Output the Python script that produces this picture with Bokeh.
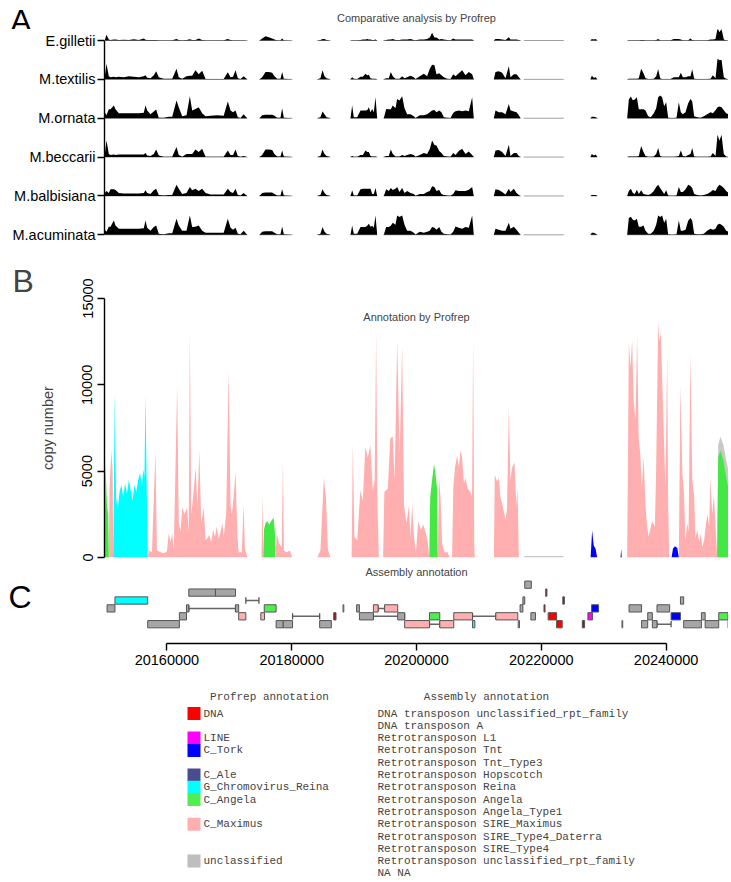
import numpy as np
from bokeh.plotting import figure
from bokeh.models import Range1d, FixedTicker, Label, LinearAxis, BasicTickFormatter
from bokeh.layouts import column
from bokeh.embed import file_html
from bokeh.resources import INLINE
from bokeh.core.properties import value

START = 20150000
END = 20250000
SANS = "Liberation Sans"
MONO = "Liberation Mono"

# ---------------- Panel A : comparative analysis (relative signal) -------------
species = ["E.gilletii", "M.textilis", "M.ornata", "M.beccarii", "M.balbisiana", "M.acuminata"]

# positions in kb from START
a_kb = [
    0.05, 0.32, 0.69, 0.96, 1.5, 1.76, 2.3, 3.1, 3.9, 4.7, 5.5, 6.3, 6.57, 6.84, 7.37, 7.9, 8.28, 8.7, 9.5, 10.3,
    10.85, 11.54, 11.9, 12.45, 13.14, 13.68, 14.05, 14.58, 15.1, 15.65, 16.2, 17.0, 18.06, 19.1, 19.76, 20.2,
    20.6, 21.0, 21.37, 21.8, 22.3, 22.86,
    24.84, 25.27, 25.8, 26.33, 26.87, 27.24, 27.67, 28.2, 28.47, 28.74, 30.08,
    34.08, 34.6, 34.94, 35.26, 35.58, 36.2,
    39.42, 39.69, 39.95, 40.5, 41.03, 41.4, 41.83, 42.1, 42.36, 42.63, 42.9, 43.16, 43.43, 43.7,
    44.76, 45.14, 45.56, 45.88, 46.2, 46.63, 46.9, 47.27, 47.7, 48.08, 48.5, 49.04, 49.57,
    49.84, 50.53, 51.17, 51.7, 52.13, 52.5, 52.88, 53.2, 53.64, 54.0, 54.38, 54.92, 55.45, 55.88, 56.25, 56.78,
    57.32, 57.85, 58.38, 58.92, 59.18,
    62.39, 62.66, 63.19, 63.73, 64.26, 64.8, 65.06, 65.6, 66.03, 66.4, 66.67,
    67.2, 73.6,
    77.88, 78.1, 78.42, 78.74, 78.96,
    83.76, 84.03, 84.35, 84.67, 84.99, 85.31, 85.63, 86.0, 86.38, 86.7, 87.13, 87.55, 88.03, 88.41, 88.73, 89.05,
    89.37, 89.69, 90.01, 90.33, 90.71, 91.24, 91.67, 92.04, 92.36, 92.68, 93.11, 93.54, 93.91, 94.18, 94.5,
    94.98, 95.51, 96.05, 96.58, 97.12, 97.49, 97.92, 98.24, 98.56, 98.88, 99.25, 99.63, 100.0,
]

e_gilletii = [
    0.5, 5.7, 1, 0.5, 1, 1, 0.5, 0.7, 0.5, 1.3, 0.5, 2, 0.7, 0.5, 0.5, 0.5, 0.5, 0.3, 0.3, 0.3, 0.3, 1.5, 0.5,
    0.3, 0.5, 1.3, 0.5, 0.5, 2, 0.5, 0.3, 0.3, 0.3, 0.3, 1.5, 0.5, 0.3, 0.3, 0.3, 0.3, 0.3, 0,
    0, 2, 4.3, 3.3, 2, 1, 0.3, 0.3, 2, 0.3, 0,
    0, 0.5, 1.5, 1.5, 0.5, 0,
    0, 0.3, 0.3, 0.3, 0.5, 1, 1, 1.5, 1, 1, 0.5, 0.5, 1, 0,
    0, 0.5, 1, 1, 1.5, 0.5, 0.5, 0.5, 1, 1, 1, 1.5, 0.5,
    0.3, 1, 1, 1.5, 3, 7.7, 3, 3, 1, 1.5, 1, 0.5, 0.3, 2, 1, 1, 1, 1, 1, 1, 0,
    0, 1.5, 1.5, 1, 0.5, 3.3, 1, 1, 1, 0.5, 0,
    0, 0,
    0, 1.5, 1, 1.5, 0,
    0, 0.3, 0.3, 0.3, 0.3, 0.3, 0.3, 0.5, 0.5, 0.3, 0.3, 0.3, 0.3, 0.5, 1.5, 0.3, 0.3, 0.3, 0.3, 0.3, 0.3,
    1.5, 1.5, 1.5, 1, 0.3, 0.3, 0.3, 2, 0.5, 0.3, 0.3, 0.3, 0.3, 0.3, 1, 1, 1.5, 12.3, 8.3, 11.7, 1, 0.3, 0,
]
m_textilis = [
    3, 15.7, 3, 2, 2.5, 2, 2.5, 2, 3, 2.5, 2, 3, 4, 1.5, 1, 4, 8, 2, 0.5, 0.5, 0.5, 10.7, 2, 0.5, 3, 3.5, 3.5,
    9, 5, 8.5, 0.3, 0.3, 0.3, 0.3, 7, 2, 2.5, 9, 1, 0.3, 3, 0,
    0, 2, 7.3, 7.3, 6.5, 3, 0.5, 0.5, 7.3, 0.5, 0,
    0, 1, 9, 3, 1, 0,
    0, 2, 0.5, 0.3, 2.5, 2.5, 5.7, 4, 4.7, 1, 0.5, 0.5, 0.5, 0,
    0, 1, 1, 7.3, 3, 0.5, 0.5, 0.5, 3, 1, 2, 3.5, 2,
    0.3, 3, 5.7, 3, 10.7, 14.7, 14, 5, 6, 4, 2, 0.5, 0.3, 5, 3, 6, 9, 4, 7.3, 5, 0,
    0, 7.3, 8, 6.7, 1, 13.3, 2, 5, 5, 2, 0,
    0, 0,
    0, 3.5, 1.5, 2, 0,
    0, 0.5, 0.5, 0.5, 0.5, 0.5, 1, 10.7, 6, 1, 0.3, 0.3, 0.5, 3, 10, 1, 0.3, 0.3, 0.3, 0.3, 0.3, 2, 2, 2,
    6.7, 2, 2, 3, 3, 10, 0.5, 0.3, 0.3, 0.3, 0.3, 0.5, 4, 1, 20.7, 19, 19.7, 2, 0.5, 0,
]
m_ornata = [
    6, 3, 9, 9, 12.7, 9, 5, 5, 5, 5, 5, 5.5, 13, 7.7, 4, 6.7, 8.7, 0.5, 0.5, 1.5, 1.5, 17.7, 11, 2, 3, 22, 7.7,
    9.3, 11, 5, 2, 2.5, 3, 2.5, 16.7, 7.7, 6, 7.7, 1, 0.3, 4, 0,
    0, 3, 3.5, 3.5, 3.5, 2.5, 0.5, 0.5, 10, 0.5, 0,
    0, 1, 6.7, 4, 1, 0,
    0, 12.7, 1, 1, 7.7, 7.7, 7.7, 8, 11, 6, 9.3, 6, 21, 0,
    0, 9.3, 9, 9, 12.7, 10, 19.3, 17.7, 22, 10, 4, 4, 2,
    0.3, 3, 3, 4, 6, 7.7, 8.3, 6, 7.7, 6, 1, 0.5, 0.3, 5.3, 7, 7.7, 7, 7.7, 7, 21, 0,
    0, 7.7, 6, 6, 4, 14.3, 8, 6.7, 6, 3, 0,
    0, 0,
    0, 1.5, 1.5, 1, 0,
    0, 18.7, 21.7, 18, 18.7, 21, 9, 9, 9, 7.7, 2, 1, 5, 10, 21, 22.7, 21, 12, 16, 0.5, 0.3, 0.3, 0.5, 16,
    6, 4, 6, 15, 19.3, 17, 2, 1, 0.5, 2, 4, 6, 5, 8, 11, 11.7, 11, 8, 5, 4,
]
m_beccarii = [
    3, 16.7, 3, 2, 2.5, 2, 2.5, 2.5, 2.5, 2.5, 2.5, 2.5, 4, 1.5, 1, 3, 7.7, 1.5, 0.3, 0.3, 0.3, 10, 2, 0.3, 3,
    3, 3, 7.7, 5, 8.3, 0.3, 0.3, 0.3, 0.3, 6.7, 2, 2, 7.7, 1, 0.3, 1, 0,
    0, 2, 7.7, 7.7, 7, 3, 0.5, 0.5, 6.7, 0.5, 0,
    0, 1, 7.7, 3, 1, 0,
    0, 1, 0.3, 0.3, 2, 2, 6.7, 5, 5, 1, 0.5, 0.5, 0.5, 0,
    0, 1, 1, 7.7, 3, 0.5, 0.5, 0.5, 2, 1, 2, 3, 2,
    0.3, 2, 4, 3, 8, 16.7, 12, 11.7, 6, 4, 1, 0.5, 0.3, 4, 2, 6, 8.3, 3, 5.7, 2, 0,
    0, 6.7, 7, 5, 1, 12.3, 1, 4, 4, 1, 0,
    0, 0,
    0, 3, 1.5, 2.5, 0,
    0, 0.5, 0.5, 0.5, 0.5, 0.5, 1, 11, 5, 1, 0.3, 0.3, 0.5, 3, 9, 1, 0.3, 0.3, 0.3, 0.3, 0.3, 0.3, 0.5, 1,
    6.7, 1, 0.5, 2, 3, 9, 0.5, 0.3, 0.3, 0.3, 0.3, 0.5, 4, 1, 22.3, 16.7, 22.3, 3, 0.5, 0,
]
m_balbisiana = [
    3, 5, 3, 6.7, 6.7, 6, 3, 2.5, 2.5, 2.5, 2.5, 3, 5.7, 3, 2, 5.7, 7.3, 1, 0.5, 1, 1, 11.3, 7.3, 2, 3, 9, 5.7,
    7.3, 5, 7.3, 3, 1.5, 1.5, 1.5, 7.3, 4, 3, 7.3, 1, 0.5, 3, 0,
    0, 3, 3.5, 3.5, 3.5, 2, 0.5, 0.5, 6.7, 0.5, 0,
    0, 1, 6.7, 3, 1, 0,
    0, 5.7, 0.5, 0.5, 6.7, 7.3, 7.3, 7.3, 7.3, 7.3, 2, 2, 8, 0,
    0, 6.7, 5, 8, 6, 7.3, 9, 4, 8, 3, 5, 3, 2,
    0.3, 2, 2, 4, 5, 9.7, 9, 5, 6, 2, 1, 0.5, 0.3, 2, 5.7, 5, 5, 5, 6.3, 9, 0,
    0, 6.7, 6, 4, 1.5, 7.3, 4, 7.3, 3, 1, 0,
    0, 0,
    0, 1, 1, 1, 0,
    0, 5, 7.3, 3, 2, 6.3, 2, 5.7, 2, 1.5, 1, 2, 5, 9, 11.3, 8, 5, 2, 5.7, 0.5, 0.3, 0.3, 0.5, 9, 4, 4, 6.7,
    11.3, 10, 8, 2, 1, 0.5, 1, 2, 4, 6, 5, 9, 11.3, 10, 8, 5, 3,
]
m_acuminata = [
    5, 3, 8, 8, 14.3, 9.3, 6, 6, 6, 6, 6, 6.5, 14.3, 7, 4, 7.7, 9.3, 1, 0.5, 1.5, 1.5, 16, 9.3, 4, 4, 19.3,
    7.7, 8, 9.3, 4, 2, 2, 2, 2, 16, 7, 5, 7, 1, 0.5, 4, 0,
    0, 3, 3.5, 3.5, 3.5, 2, 0.5, 0.5, 8.3, 0.5, 0,
    0, 1, 7.7, 3, 1, 0,
    0, 9.3, 1, 1, 7.7, 7.7, 7.7, 9, 11, 8, 9, 7, 19.3, 0,
    0, 7.7, 7.7, 9, 12, 10, 19.3, 17.7, 19.3, 10, 4, 4, 2,
    0.3, 3, 2, 3, 4, 7.7, 7, 5, 7.7, 3, 1, 0.5, 0.3, 3, 8.3, 7, 6, 7.7, 7, 19.3, 0,
    0, 6, 5, 4, 4, 12, 6, 8, 5, 2, 0,
    0, 0,
    0, 2, 2, 1, 0,
    0, 16.7, 18, 15, 14.3, 16, 8, 8, 9.3, 4, 1, 1, 4, 10, 19.3, 17.7, 19.3, 12, 16, 0.5, 0.3, 0.3, 0.5, 14.3,
    4, 4, 5, 14, 16.7, 14, 1, 0.5, 0.5, 1, 4, 6, 5, 6, 10, 11, 10, 8, 4, 3,
]
a_tracks = [e_gilletii, m_textilis, m_ornata, m_beccarii, m_balbisiana, m_acuminata]
# sequenced (covered) regions, kb
a_cover_start = [0.0, 24.8, 34.1, 39.4, 44.7, 62.4, 67.2, 77.9, 83.8]
a_cover_end = [22.9, 30.1, 36.2, 43.7, 59.2, 66.7, 73.6, 79.0, 100.0]

# ---------------- Panel B : annotation by Profrep (copy number) ----------------
pink_kb = [0.7, 0.8, 1.1, 1.3, 1.39,
           6.94, 7.1, 7.6, 8.17, 8.4, 9.0, 9.5, 10.0, 10.3, 10.6, 10.85, 11.1, 11.65, 11.9, 12.2, 12.45, 12.8,
           13.25, 13.5, 13.68, 13.9, 14.2, 14.6, 14.9, 15.2, 15.5, 15.9, 16.2, 16.45, 16.8, 17.1, 17.4, 17.7,
           18.0, 18.3, 18.6, 18.9, 19.1, 19.5, 19.9, 20.2, 20.4, 20.7, 21.0, 21.3, 21.5, 22.0, 22.3, 22.5, 22.9,
           25.16, 25.3, 25.45, 25.5, 27.4, 27.6, 28.0, 28.4, 28.6, 28.75, 29.2, 29.7, 30.1,
           34.1, 34.6, 35.15, 35.5, 35.8, 36.2,
           39.6, 39.8, 40.05, 40.5, 41.0, 41.4, 41.8, 42.2, 42.6, 43.0, 43.3, 43.53, 43.75, 43.97,
           44.65, 44.85, 45.4, 45.8, 46.2, 46.5, 46.9, 47.3, 47.7, 48.0, 48.4, 48.8, 49.04, 49.3, 49.6, 49.9,
           50.3, 50.7, 51.1, 51.5, 51.8, 52.05,
           53.4, 53.6, 53.85, 54.1, 54.5, 55.0, 55.3,
           55.7, 55.9, 56.15, 56.5, 56.8, 57.05, 57.3, 57.6, 57.85, 58.2, 58.65, 58.9, 59.08, 59.25, 59.35,
           62.4, 62.55, 62.9, 63.2, 63.45, 63.8, 64.26, 64.5, 64.8, 65.05, 65.3, 65.7, 66.0, 66.2, 66.4,
           83.76, 84.03, 84.3, 84.56, 84.8, 85.1, 85.36, 85.6, 85.9, 86.1, 86.4, 86.7, 86.95, 87.2, 87.5, 87.75,
           88.2, 88.4, 88.73, 88.9, 89.16, 89.4, 89.6, 89.9, 90.17, 90.33, 90.5,
           92.04, 92.3, 92.6, 92.85, 93.1, 93.4, 93.6, 93.9, 94.2, 94.5, 94.7, 95.0, 95.3, 95.6, 95.8, 96.1,
           96.4, 96.65, 96.9, 97.1, 97.4, 97.65, 97.9, 98.18]
pink_cn = [0, 4000, 6200, 5000, 0,
           0, 400, 300, 6200, 400, 300, 250, 350, 1400, 900, 1400, 400, 10000, 2000, 1500, 2900, 2500,
           2900, 1500, 13100, 2500, 3500, 5200, 3000, 6200, 2000, 2900, 1000, 1100, 1300, 900, 1600, 1200,
           1800, 1100, 1500, 2000, 1200, 2500, 10800, 3000, 2500, 3500, 5000, 1200, 300, 300, 3100, 500, 0,
           0, 3600, 500, 0, 0, 1400, 800, 600, 5600, 400, 300, 400, 0,
           0, 400, 4600, 3400, 500, 0,
           0, 6600, 1200, 1000, 3900, 3300, 6400, 5800, 6500, 3900, 4500, 13000, 3000, 0,
           0, 3800, 4000, 6900, 7000, 4500, 12600, 6000, 12200, 3000, 2000, 3000, 1200, 3100, 1200, 300,
           2100, 1600, 1900, 1400, 900, 0,
           0, 4600, 3500, 800, 300, 300, 0,
           0, 4000, 5200, 5900, 5300, 6200, 5800, 4300, 4600, 4000, 3800, 3500, 12700, 800, 0,
           0, 4800, 4400, 4600, 3500, 3000, 2200, 2800, 8700, 4500, 5200, 5500, 3000, 4000, 0,
           0, 12400, 11000, 12600, 9000, 8000, 12900, 7000, 5800, 4000, 5800, 3000, 1800, 1200, 1700, 2100,
           1800, 5000, 13700, 12500, 13000, 10000, 7500, 4000, 11800, 3000, 0,
           0, 10000, 5000, 3800, 1000, 2000, 1500, 11800, 4500, 3500, 1100, 1600, 900, 1400, 600, 1000,
           2000, 2500, 1800, 4600, 2500, 3600, 2000, 0]
cyan_kb = [1.39, 1.45, 1.65, 1.85, 2.1, 2.4, 2.7, 3.0, 3.3, 3.6, 3.9, 4.2, 4.5, 4.8, 5.1, 5.4, 5.7, 6.0, 6.2,
           6.4, 6.57, 6.75, 6.94]
cyan_cn = [0, 2000, 9500, 3500, 2700, 3800, 4200, 3500, 4300, 3700, 4500, 3900, 3300, 4200, 3800, 4500, 4900,
           4200, 5100, 4700, 9400, 4500, 0]
green_kb = [0.05, 0.15, 0.4, 0.6, 0.7,
            25.45, 25.55, 25.8, 26.1, 26.4, 26.7, 27.1, 27.3, 27.4,
            52.05, 52.2, 52.5, 52.8, 53.0, 53.3, 53.4,
            98.18, 98.35, 98.7, 99.2, 99.7, 100.0]
green_cn = [0, 5500, 3000, 2500, 0,
            0, 1600, 2000, 2100, 1900, 2100, 2300, 1500, 0,
            0, 3500, 4500, 5400, 5000, 4000, 0,
            0, 5800, 6200, 5600, 4500, 4000]
blue_kb = [77.9, 78.15, 78.4, 78.7, 78.95, 82.7, 82.8, 82.9, 90.87, 91.1, 91.4, 91.8, 92.04]
blue_cn = [0, 1560, 700, 500, 0, 0, 500, 0, 0, 500, 650, 550, 0]
grey_kb = [67.2, 67.3, 73.5, 73.6, 98.18, 98.35, 98.7, 99.2, 99.7, 100.0]
grey_cn = [0, 90, 90, 0, 0, 6500, 7000, 6500, 5500, 5000]
b_ticks = [0, 5000, 10000, 15000]

# ---------------- Panel C : assembly annotation --------------------------------
c_start = [0.41, 1.68, 6.92, 12.0, 13.14, 13.51, 17.78, 21.0, 21.5, 25.05, 25.6, 27.5, 28.64, 34.48, 36.73,
           38.22, 40.4, 40.85, 43.09, 44.89, 46.99, 48.1, 52.08, 53.73, 55.97, 58.97, 62.71, 66.3, 66.6, 67.05,
           67.35, 68.33, 70.43, 70.7, 71.1, 72.45, 73.45, 76.57, 77.47, 78.06, 82.93, 84.06, 86.07, 87.05,
           87.8, 88.54, 90.8, 92.3, 92.82, 95.66, 96.26, 98.43, 99.93]
c_end = [1.68, 6.92, 12.0, 13.14, 13.51, 17.78, 21.0, 21.5, 22.65, 25.64, 27.5, 28.64, 30.14, 36.35, 37.1,
         38.35, 40.85, 43.09, 43.85, 46.99, 48.1, 52.08, 53.73, 55.97, 58.97, 59.35, 66.23, 66.5, 67.05, 67.35,
         68.4, 69.07, 70.6, 70.9, 72.45, 73.35, 73.7, 76.94, 78.22, 79.18, 83.05, 86.07, 87.05, 87.8, 88.54,
         90.57, 92.3, 92.82, 95.66, 96.26, 98.43, 99.93, 100.0]
c_level = [2, 3, 0, 1, 2, 4, 4, 2, 1, 1, 2, 0, 0, 0, 1, 2, 2, 1, 2, 2, 1, 0, 1, 0, 1, 0, 1, 0, 2, 3, 5, 1, 2, 4,
           1, 0, 3, 0, 1, 2, 0, 2, 0, 1, 0, 2, 1, 3, 0, 1, 0, 1, 0]
c_class = ["unclassified", "G_Chromovirus_Reina", "unclassified", "unclassified", "unclassified",
           "unclassified", "unclassified", "unclassified", "C_Maximus", "C_Maximus", "C_Angela",
           "unclassified", "unclassified", "unclassified", "DNA_A", "NA", "unclassified", "unclassified",
           "C_Maximus", "C_Maximus", "unclassified", "C_Maximus", "C_Angela", "C_Maximus", "C_Maximus",
           "G_Chromovirus_Reina", "C_Maximus", "C_Maximus", "unclassified", "unclassified", "unclassified",
           "unclassified", "DNA_A", "DNA_A", "DNA", "DNA", "DNA_A", "DNA_A", "LINE", "C_Tork", "NA",
           "unclassified", "unclassified", "unclassified", "unclassified", "unclassified", "C_Tork",
           "unclassified", "unclassified", "unclassified", "unclassified", "C_Angela", "unclassified"]
conn_start = [13.51, 22.65, 30.14, 43.09, 43.85, 52.08, 58.97, 88.54]
conn_end = [21.0, 24.75, 34.48, 48.1, 44.89, 53.73, 62.71, 90.8]
conn_level = [2, 3, 1, 1, 2, 0, 1, 0]
c_ticks = [20160000, 20180000, 20200000, 20220000, 20240000]

# ---------------- Legend --------------------------------------------------------
profrep_classes = ["DNA", "LINE", "C_Tork", "C_Ale", "G_Chromovirus_Reina", "C_Angela", "C_Maximus", "unclassified"]
profrep_colors = ["#FF0000", "#FF00FF", "#0000FF", "#4B4B8F", "#00FFFF", "#50EE50", "#FFAFAF", "#BEBEBE"]
profrep_rows = [0, 2, 3, 5, 6, 7, 9, 12]
assembly_labels = ["DNA transposon unclassified_rpt_family", "DNA transposon A", "Retrotransposon L1",
                   "Retrotransposon Tnt", "Retrotransposon Tnt_Type3", "Retrotransposon Hopscotch",
                   "Retrotransposon Reina", "Retrotransposon Angela", "Retrotransposon Angela_Type1",
                   "Retrotransposon SIRE_Maximus", "Retrotransposon SIRE_Type4_Daterra",
                   "Retrotransposon SIRE_Type4", "Retrotransposon unclassified_rpt_family", "NA NA"]

class_color = dict(zip(profrep_classes, profrep_colors))
class_color["DNA_A"] = "#A01010"
class_color["NA"] = "#FFFFFF"
box_fill = {"unclassified": "#A6A6A6"}

# ---------------- layout constants --------------------------------------------
W = 728
AXIS_X = 104                 # left border width = screen x of the genomic start
LETTER_RIGHT = 31            # right edge of the panel letters


def kb(v):
    return START + np.asarray(v, dtype=float) * 1000.0


def axis_fig(height, y_range, top, bottom, x_range=None):
    p = figure(width=W, height=height, x_range=x_range or Range1d(START, END), y_range=y_range,
               output_backend="svg", toolbar_location=None, x_axis_location=None, y_axis_location=None,
               min_border_left=AXIS_X, min_border_right=0, min_border_top=top, min_border_bottom=bottom)
    p.outline_line_color = None
    p.background_fill_color = "white"
    p.border_fill_color = "white"
    p.xgrid.grid_line_color = None
    p.ygrid.grid_line_color = None
    return p


def style_axis(ax):
    ax.axis_line_color = "black"
    ax.axis_line_width = 1.4
    ax.major_tick_line_color = "black"
    ax.major_tick_line_width = 1.4
    ax.major_tick_in = 0
    ax.major_tick_out = 7
    ax.minor_tick_line_color = None
    ax.major_label_text_font = SANS
    ax.major_label_text_font_size = "14.5px"
    ax.major_label_text_color = "black"


def letter_axis(p, y, letter):
    # panel letter drawn as the single label of an invisible left axis
    ax = LinearAxis(ticker=FixedTicker(ticks=[y]), major_label_overrides={y: letter})
    ax.axis_line_color = None
    ax.major_tick_line_color = None
    ax.minor_tick_line_color = None
    ax.major_tick_in = 0
    ax.major_tick_out = 0
    ax.major_label_standoff = AXIS_X - LETTER_RIGHT
    ax.major_label_text_font = SANS
    ax.major_label_text_font_size = "32px"
    ax.major_label_text_color = "black"
    p.add_layout(ax, "left")


# ---- Panel A header strip (screen y 0..29)
pA0 = axis_fig(29, Range1d(29, 0), 0, 0)
pA0.add_layout(Label(x=(START + END) / 2, y=17, text="Comparative analysis by Profrep",
                     text_align="center", text_baseline="middle", text_font=SANS, text_font_size="11px"))
letter_axis(pA0, 16, "A")

# ---- Panel A tracks (screen y 29..258, frame 29..245)
spacing = 38.86
n = len(species)
offsets = [round((n - 1 - i) * spacing, 2) for i in range(n)]
pA = axis_fig(229, Range1d(-10.7, 205.3), 0, 13)
xa = kb(a_kb)
for vals, off in zip(a_tracks, offsets):
    assert len(vals) == len(a_kb)
    pA.segment(x0=kb(a_cover_start), y0=off, x1=kb(a_cover_end), y1=off, line_color="#A0A0A0", line_width=1)
    pA.varea(x=xa, y1=np.full(len(a_kb), off), y2=off + np.asarray(vals, dtype=float), fill_color="black")
axA = LinearAxis(ticker=FixedTicker(ticks=offsets), major_label_overrides={o: s for o, s in zip(offsets, species)},
                 bounds=(offsets[-1], offsets[0]))
style_axis(axA)
axA.major_label_standoff = 2
pA.add_layout(axA, "left")

# ---- Panel B  (screen 258..565, frame 298..557)
pB = axis_fig(307, Range1d(0, 15000), 40, 8)
pB.title.text = "B"
pB.title.align = "left"
pB.title.offset = -(AXIS_X - 12)
pB.title.text_font = SANS
pB.title.text_font_size = "32px"
pB.title.text_font_style = "normal"
pB.title.standoff = 0
layers = [(grey_kb, grey_cn, "#C8C8C8"), (pink_kb, pink_cn, "#FFAFAF"), (cyan_kb, cyan_cn, "#00FFFF"),
          (green_kb, green_cn, "#44E844"), (blue_kb, blue_cn, "#0000FF")]
for xs, ys, col in layers:
    pB.varea(x=kb(xs), y1=np.zeros(len(xs)), y2=np.asarray(ys, dtype=float), fill_color=col)
axB = LinearAxis(ticker=FixedTicker(ticks=b_ticks), bounds=(b_ticks[0], b_ticks[-1]), axis_label="copy number")
style_axis(axB)
axB.major_label_orientation = "vertical"
axB.major_label_standoff = 5
axB.axis_label_text_font = SANS
axB.axis_label_text_font_size = "14.5px"
axB.axis_label_text_font_style = "normal"
axB.axis_label_standoff = 24
pB.add_layout(axB, "left")
pB.add_layout(Label(x=(START + END) / 2, y=(557 - 316) * 15000 / 259, text="Annotation by Profrep",
                    text_align="center", text_baseline="middle", text_font=SANS, text_font_size="11px"))

# ---- Panel C  (screen 565..683, frame 565..643)
pC = axis_fig(118, Range1d(-2.443, 7.43), 0, 40)
lv = np.asarray(c_level, dtype=float)
fills = [box_fill.get(c, class_color[c]) for c in c_class]
cl = np.asarray(conn_level, dtype=float)
pC.segment(x0=kb(conn_start), y0=cl, x1=kb(conn_end), y1=cl, line_color="#666666", line_width=1.5)
pC.segment(x0=kb(conn_start), y0=cl - 0.4, x1=kb(conn_start), y1=cl + 0.4, line_color="#555555", line_width=1.3)
pC.segment(x0=kb(conn_end), y0=cl - 0.4, x1=kb(conn_end), y1=cl + 0.4, line_color="#555555", line_width=1.3)
pC.quad(left=kb(c_start), right=kb(c_end), bottom=lv - 0.46, top=lv + 0.46, fill_color=fills,
        line_color="#555555", line_width=1)
axC = LinearAxis(ticker=FixedTicker(ticks=c_ticks), bounds=(c_ticks[0], c_ticks[-1]),
                 formatter=BasicTickFormatter(use_scientific=False))
style_axis(axC)
axC.major_label_standoff = 4
pC.add_layout(axC, "below")
pC.add_layout(Label(x=(START + END) / 2, y=6.67, text="Assembly annotation", text_align="center",
                    text_baseline="middle", text_font=SANS, text_font_size="11px"))
letter_axis(pC, 3.38, "C")

# ---- Legend  (screen 683..880; x data = screen x)
ROW0, ROWH = 713.0, 12.3
pL = axis_fig(197, Range1d((880 - ROW0) / ROWH, (683 - ROW0) / ROWH), 0, 0, x_range=Range1d(AXIS_X, W))
pL.rect(x=193.5, y=profrep_rows, width=13, height=13 / ROWH, fill_color=profrep_colors, line_color=None)
pL.text(x=203, y=profrep_rows, text=profrep_classes, text_font=value(MONO), text_font_size="11px",
        text_color="#444444", text_baseline="middle", text_align="left")
pL.text(x=377, y=list(range(len(assembly_labels))), text=assembly_labels, text_font=value(MONO),
        text_font_size="11px", text_color="#444444", text_baseline="middle", text_align="left")
pL.text(x=[269, 486], y=[(696 - ROW0) / ROWH] * 2, text=["Profrep annotation", "Assembly annotation"],
        text_font=value(MONO), text_font_size="11px", text_color="#444444", text_baseline="middle",
        text_align="center")

layout = column(pA0, pA, pB, pC, pL)
open("out.html", "w").write(file_html(layout, INLINE))
